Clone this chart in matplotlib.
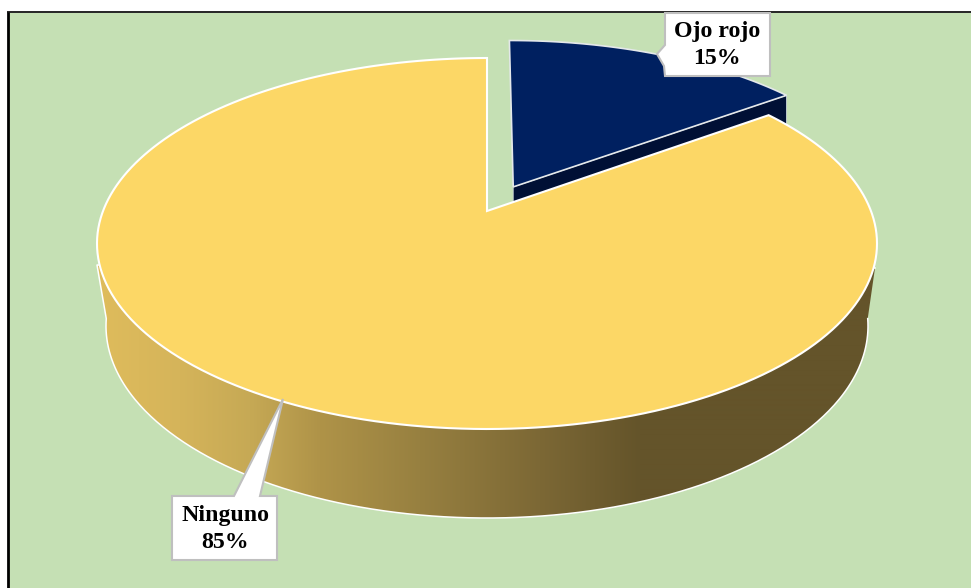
import numpy as np
import matplotlib
matplotlib.use("Agg")
import matplotlib.pyplot as plt
from matplotlib.patches import Polygon, Rectangle
from matplotlib.colors import to_rgb

categories = ["Ojo rojo", "Ninguno"]
percent = [15, 85]
percent_labels = ["15%", "85%"]

W, H = 971, 588
explode = 0.154

# pie plane seen in perspective, all in pixels of the picture
cx, cy = 487, 211
rim_top, rim_bottom = 58, 429
half_width = 390
k = ((rim_bottom - cy) - (cy - rim_top)) / ((rim_bottom - cy) + (cy - rim_top))
a = half_width * np.sqrt(1 - k**2)
b = (cy - rim_top) * (1 + k)


def project(px, py):
    d = 1 + k * py
    return cx + a * px / d, cy - b * py / d


def wedge(f0, f1, shift=0.0):
    t = np.linspace(f0, f1, 200) * 2 * np.pi
    mid = (f0 + f1) * np.pi
    sx, sy = shift * np.sin(mid), shift * np.cos(mid)
    px = np.r_[0, np.sin(t), 0] + sx
    py = np.r_[0, np.cos(t), 0] + sy
    return np.column_stack(project(px, py))


fig = plt.figure(figsize=(W / 100, H / 100), dpi=100, facecolor="white")
ax = fig.add_axes([0, 0, 1, 1])
ax.set_xlim(0, W)
ax.set_ylim(H, 0)
ax.axis("off")

ax.add_patch(Rectangle((8, 13), W - 8, H - 13, fc="#C5E0B4", ec="none", zorder=0))
ax.plot([7.5, 7.5], [12, H], color="black", lw=2, zorder=1, solid_capstyle="butt")
ax.plot([6.5, W], [12.2, 12.2], color="black", lw=1.2, zorder=1, solid_capstyle="butt")

# side of the big slice, gradient clipped to the outline
t = np.linspace(np.radians(-2.2), np.radians(182.2), 300)
bx = 487 + 381 * np.cos(t)
by = 326 + 192 * np.sin(t)
side = np.column_stack([np.r_[bx, 97, 875], np.r_[by, 265, 268]])

stop_x = [97, 180, 250, 320, 420, 540, 640, 971]
stop_c = ["#DFBC5C", "#D5B45A", "#C6A955", "#AF9348", "#978040", "#7C6835", "#64542A", "#64542A"]
rgb = np.array([to_rgb(c) for c in stop_c])
xs = np.arange(97, 876)
grad = np.column_stack([np.interp(xs, stop_x, rgb[:, i]) for i in range(3)])[None, :, :]
im = ax.imshow(grad, extent=(97, 876, 518, 200), aspect="auto", zorder=2, interpolation="bilinear")
clip = Polygon(side, closed=True, transform=ax.transData, fc="none", ec="none")
ax.add_patch(clip)
im.set_clip_path(clip)
ax.plot(side[:, 0], side[:, 1], color="white", lw=1.1, zorder=3)
ax.set_xlim(0, W)
ax.set_ylim(H, 0)

# exploded slice with its cut face
f = percent[0] / sum(percent)
navy = wedge(0, f, explode)
apex = navy[0]
corner = navy[-2]
face = [apex, corner, corner + [0, 85], apex + [0, 85]]
ax.add_patch(Polygon(face, closed=True, fc="#001035", ec="#C9D2D8", lw=0.6, zorder=4))
ax.add_patch(Polygon(navy, closed=True, fc="#002060", ec="#E4E8EA", lw=1.2, zorder=5, joinstyle="miter"))

ax.add_patch(Polygon(wedge(f, 1), closed=True, fc="#FCD766", ec="white", lw=1.5, zorder=6, joinstyle="miter"))

# callouts
box_color = "#BFBFBF"
ojo = [(665, 13), (770, 13), (770, 76), (665, 76), (664, 66), (657, 54), (665, 45)]
nin = [(172, 496), (234, 496), (283, 399), (260, 496), (277, 496), (277, 560), (172, 560)]
ax.add_patch(Polygon(ojo, closed=True, fc="white", ec=box_color, lw=1.5, zorder=7, joinstyle="miter"))
ax.add_patch(Polygon(nin, closed=True, fc="white", ec=box_color, lw=1.5, zorder=7, joinstyle="miter"))

font = dict(family="Liberation Serif", weight="bold", fontsize=17.2, color="black",
            ha="center", va="center", zorder=8)
ax.text(717, 31, categories[0], **font)
ax.text(717, 58, percent_labels[0], **font)
ax.text(225, 516, categories[1], **font)
ax.text(225, 543, percent_labels[1], **font)

fig.savefig("out.png", dpi=100, facecolor="white")
